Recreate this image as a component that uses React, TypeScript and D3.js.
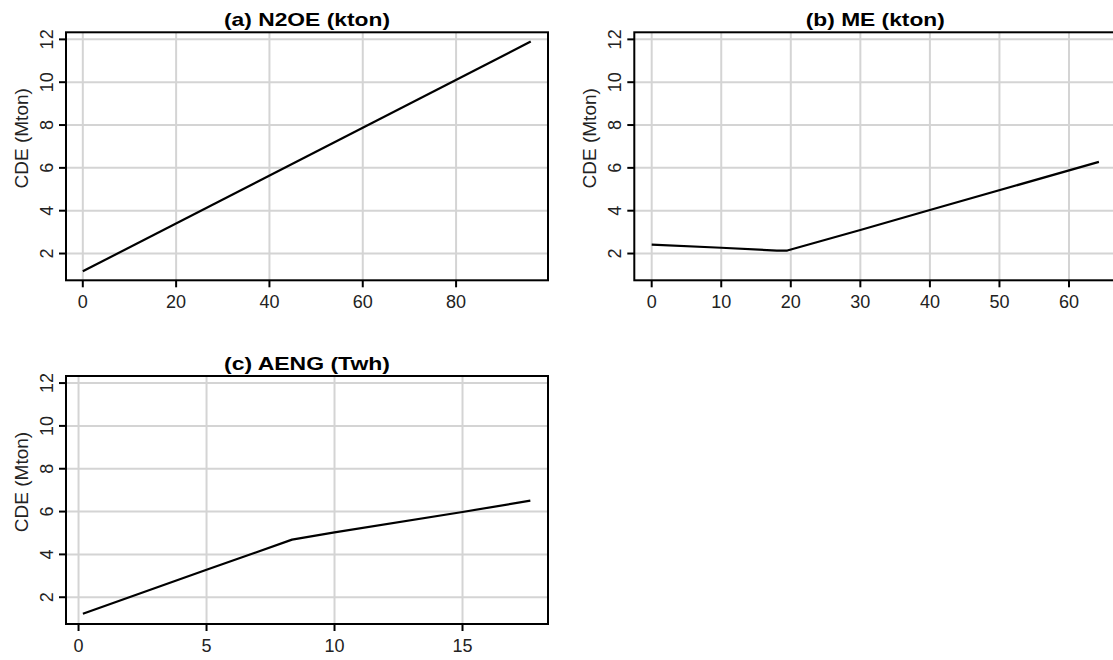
import React, { useEffect, useRef } from "react";
import * as d3 from "d3";

// data (x value, CDE in Mton)
const n2oeX = [0, 96];
const n2oeY = [1.17, 11.9];

const meX = [0, 10, 18, 19.5, 30, 40, 64.3];
const meY = [2.42, 2.27, 2.14, 2.14, 3.1, 4.03, 6.28];

const aengX = [0.17, 5, 8.34, 10, 15, 17.65];
const aengY = [1.23, 3.28, 4.69, 5.03, 5.98, 6.51];

const yTicks = [2, 4, 6, 8, 10, 12];
const n2oeTicks = [0, 20, 40, 60, 80];
const meTicks = [0, 10, 20, 30, 40, 50, 60];
const aengTicks = [0, 5, 10, 15];

const titles = ["(a) N2OE (kton)", "(b) ME (kton)", "(c) AENG (Twh)"];
const titleWidths = [166, 139, 166];
const yLabel = "CDE (Mton)";

const panels = [
  { xs: n2oeX, ys: n2oeY, ticks: n2oeTicks, xDomain: [-3.6, 99.7], left: 66, top: 32.3 },
  { xs: meX, ys: meY, ticks: meTicks, xDomain: [-2.5, 66.8], left: 634.3, top: 32.3 },
  { xs: aengX, ys: aengY, ticks: aengTicks, xDomain: [-0.49, 18.34], left: 66, top: 376 },
];

const W = 1113, H = 660;
const boxW = 482, boxH = 248;
const font = "Arial, 'Liberation Sans', Helvetica, sans-serif";

export default function App() {
  const ref = useRef<SVGSVGElement>(null);

  useEffect(() => {
    const svg = d3.select(ref.current);
    svg.selectAll("*").remove();

    panels.forEach((p, i) => {
      const x = d3.scaleLinear().domain(p.xDomain).range([p.left, p.left + boxW]);
      const y = d3.scaleLinear().domain([0.75, 12.33]).range([p.top + boxH, p.top]);
      const g = svg.append("g");

      // grid
      g.selectAll("line.gy").data(yTicks).enter().append("line")
        .attr("x1", p.left).attr("x2", p.left + boxW)
        .attr("y1", (d) => y(d)).attr("y2", (d) => y(d))
        .attr("stroke", "#d4d4d4").attr("stroke-width", 2);
      g.selectAll("line.gx").data(p.ticks).enter().append("line")
        .attr("x1", (d) => x(d)).attr("x2", (d) => x(d))
        .attr("y1", p.top).attr("y2", p.top + boxH)
        .attr("stroke", "#d4d4d4").attr("stroke-width", 2);

      // data line
      const pts: [number, number][] = p.xs.map((v, k) => [v, p.ys[k]]);
      g.append("path")
        .datum(pts)
        .attr("d", d3.line<[number, number]>().x((d) => x(d[0])).y((d) => y(d[1])))
        .attr("fill", "none").attr("stroke", "#000").attr("stroke-width", 2.2)
        .attr("stroke-linejoin", "round");

      // frame
      g.append("rect")
        .attr("x", p.left).attr("y", p.top)
        .attr("width", boxW).attr("height", boxH)
        .attr("fill", "none").attr("stroke", "#000").attr("stroke-width", 2);

      // y ticks
      g.selectAll("line.ty").data(yTicks).enter().append("line")
        .attr("x1", p.left - 7).attr("x2", p.left)
        .attr("y1", (d) => y(d)).attr("y2", (d) => y(d))
        .attr("stroke", "#000").attr("stroke-width", 2);
      g.selectAll("text.ty").data(yTicks).enter().append("text")
        .attr("transform", (d) => `translate(${p.left - 13},${y(d)}) rotate(-90)`)
        .attr("text-anchor", "middle")
        .attr("font-family", font).attr("font-size", 18).attr("fill", "#222")
        .text((d) => d);

      // x ticks
      const bottom = p.top + boxH;
      g.selectAll("line.tx").data(p.ticks).enter().append("line")
        .attr("x1", (d) => x(d)).attr("x2", (d) => x(d))
        .attr("y1", bottom).attr("y2", bottom + 7)
        .attr("stroke", "#000").attr("stroke-width", 2);
      g.selectAll("text.tx").data(p.ticks).enter().append("text")
        .attr("x", (d) => x(d)).attr("y", bottom + 28)
        .attr("text-anchor", "middle")
        .attr("font-family", font).attr("font-size", 18).attr("fill", "#222")
        .text((d) => d);

      // y label
      g.append("text")
        .attr("transform", `translate(${p.left - 38},${p.top + boxH / 2 - 18}) rotate(-90)`)
        .attr("text-anchor", "middle")
        .attr("font-family", font).attr("font-size", 19).attr("fill", "#222")
        .text(yLabel);

      // title
      g.append("text")
        .attr("x", p.left + boxW / 2 - titleWidths[i] / 2).attr("y", p.top - 6)
        .attr("textLength", titleWidths[i]).attr("lengthAdjust", "spacingAndGlyphs")
        .attr("font-family", font).attr("font-size", 19).attr("font-weight", "bold")
        .attr("fill", "#000")
        .text(titles[i]);
    });
  }, []);

  return (
    <div style={{ position: "absolute", left: 0, top: 0, width: W, height: H, overflow: "hidden", background: "#fff" }}>
      <svg ref={ref} width={W} height={H} style={{ display: "block" }} />
    </div>
  );
}
